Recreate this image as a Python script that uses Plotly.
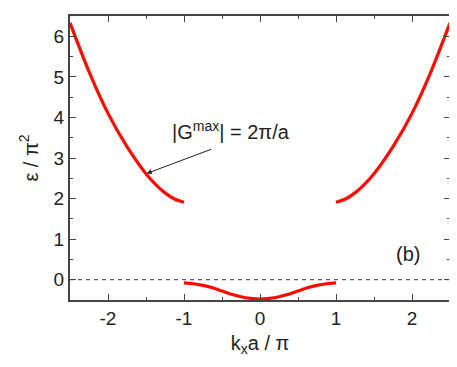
import plotly.graph_objects as go

# Upper band (left branch and mirrored right branch)
k_upper_left = [-2.5, -2.25, -2.0, -1.75, -1.5, -1.375, -1.25, -1.125, -1.0]
e_upper_left = [6.33, 5.13, 4.10, 3.28, 2.61, 2.35, 2.14, 1.99, 1.91]
k_upper_right = [1.0, 1.125, 1.25, 1.375, 1.5, 1.75, 2.0, 2.25, 2.5]
e_upper_right = [1.91, 1.99, 2.14, 2.35, 2.61, 3.28, 4.10, 5.13, 6.33]

# Lower band
k_lower = [-1.0, -0.875, -0.75, -0.625, -0.5, -0.375, -0.25, -0.125, 0.0,
           0.125, 0.25, 0.375, 0.5, 0.625, 0.75, 0.875, 1.0]
e_lower = [-0.08, -0.10, -0.14, -0.20, -0.28, -0.36, -0.42, -0.46, -0.48,
           -0.46, -0.42, -0.36, -0.28, -0.20, -0.14, -0.10, -0.08]

# Tick labels
x_ticks = [-2, -1, 0, 1, 2]
x_ticktext = ["-2", "-1", "0", "1", "2"]
y_ticks = [0, 1, 2, 3, 4, 5, 6]
y_ticktext = ["0", "1", "2", "3", "4", "5", "6"]

FONT = "Liberation Sans, Arial"
TXT = "#222222"
red = "#ff0a00"

fig = go.Figure()
fig.add_trace(go.Scatter(x=[-2.5, 2.5], y=[0, 0], mode="lines",
                         line=dict(color="#333333", width=1, dash="4px,4px"), showlegend=False))
for kx, ey in [(k_upper_left, e_upper_left), (k_upper_right, e_upper_right), (k_lower, e_lower)]:
    fig.add_trace(go.Scatter(x=kx, y=ey, mode="lines",
                             line=dict(color=red, width=3.2, shape="spline", smoothing=0.8),
                             showlegend=False))

axis_common = dict(showgrid=False, zeroline=False, showline=True, linecolor="#444444", linewidth=2,
                   mirror="ticks", ticks="inside", ticklen=6, tickwidth=1, tickcolor="#444444",
                   tickfont=dict(family=FONT, size=19, color=TXT))
fig.update_xaxes(range=[-2.5, 2.5], tickvals=x_ticks, ticktext=x_ticktext,
                 minor=dict(dtick=0.5, tick0=0, ticks="inside", ticklen=3, tickcolor="#444444"),
                 title=dict(text="k<sub>x</sub>a / π", font=dict(family=FONT, size=20, color=TXT), standoff=8),
                 **axis_common)
fig.update_yaxes(range=[-0.5, 6.5], tickvals=y_ticks, ticktext=y_ticktext,
                 minor=dict(dtick=0.5, tick0=0, ticks="inside", ticklen=3, tickcolor="#444444"),
                 title=dict(text="ε / π<sup>2</sup>", font=dict(family=FONT, size=20, color=TXT), standoff=10),
                 **axis_common)

fig.add_annotation(x=-1.49, y=2.62, ax=-0.62, ay=3.23, axref="x", ayref="y",
                   text="", showarrow=True, arrowhead=2, arrowsize=1, arrowwidth=1, arrowcolor=TXT)
fig.add_annotation(x=-0.38, y=3.68, text="|G<sup>max</sup>| = 2π/a", showarrow=False,
                   font=dict(family=FONT, size=20, color=TXT))
fig.add_annotation(x=1.95, y=0.63, text="(b)", showarrow=False,
                   font=dict(family=FONT, size=20, color=TXT))

# page body has an 8px margin; figure sized so the plot area lands where the reference's does
fig.update_layout(width=449, height=359, margin=dict(l=62, r=5, t=8, b=67),
                  plot_bgcolor="white", paper_bgcolor="white")
fig.write_html("out.html")
